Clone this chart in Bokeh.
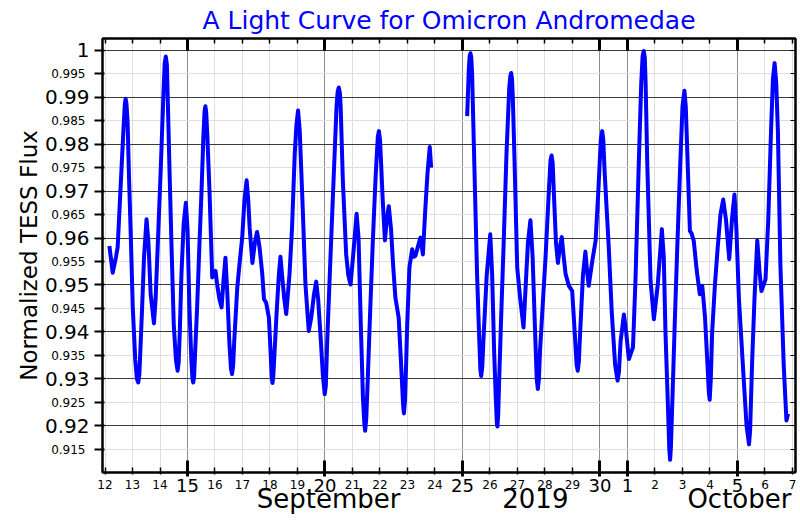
import pandas as pd
from bokeh.plotting import figure
from bokeh.models import Range1d, FixedTicker, DatetimeAxis, LinearAxis
from bokeh.embed import file_html
from bokeh.resources import INLINE

# Time is given as day of September 2019 (UTC); values above 30 fall in October (31 = Oct 1)
orbit1_day = [12.16, 12.28, 12.40, 12.46, 12.56, 12.68, 12.72, 12.75, 12.78, 12.82, 12.87, 12.94,
              13.01, 13.10, 13.16, 13.21, 13.25, 13.30, 13.35, 13.42, 13.51, 13.58, 13.66, 13.78,
              13.84, 13.90, 14.02, 14.12, 14.17, 14.21, 14.25, 14.28, 14.35, 14.42, 14.50, 14.58,
              14.64, 14.68, 14.72, 14.78, 14.86, 14.94, 15.00, 15.07, 15.14, 15.18, 15.21, 15.24,
              15.28, 15.35, 15.43, 15.51, 15.58, 15.62, 15.65, 15.68, 15.72, 15.80, 15.90, 15.97,
              16.02, 16.08, 16.16, 16.24, 16.31, 16.38, 16.45, 16.52, 16.58, 16.62, 16.66, 16.70,
              16.81, 16.90, 16.99, 17.07, 17.15, 17.21, 17.26, 17.36, 17.45, 17.53, 17.62, 17.72,
              17.78, 17.86, 17.96, 18.02, 18.06, 18.09, 18.12, 18.16, 18.24, 18.32, 18.38, 18.44,
              18.52, 18.59, 18.65, 18.71, 18.80, 18.90, 18.96, 19.02, 19.08, 19.19, 19.29, 19.41,
              19.50, 19.60, 19.68, 19.75, 19.85, 19.92, 19.99, 20.03, 20.08, 20.20, 20.32, 20.42,
              20.46, 20.50, 20.54, 20.57, 20.65, 20.77, 20.85, 20.93, 21.02, 21.15, 21.22, 21.30,
              21.38, 21.43, 21.46, 21.50, 21.55, 21.64, 21.74, 21.84, 21.92, 21.96, 22.00, 22.04,
              22.10, 22.18, 22.25, 22.32, 22.40, 22.48, 22.56, 22.68, 22.76, 22.84, 22.87, 22.91,
              22.95, 22.99, 23.07, 23.17, 23.23, 23.29, 23.37, 23.47, 23.56, 23.65, 23.73, 23.81,
              23.86]
orbit1_flux = [0.9583, 0.9526, 0.9560, 0.9580, 0.9700, 0.9842, 0.9885, 0.9897, 0.9886, 0.9850, 0.9736, 0.9600,
               0.9452, 0.9340, 0.9300, 0.9292, 0.9310, 0.9380, 0.9452, 0.9560, 0.9640, 0.9590, 0.9480, 0.9418,
               0.9470, 0.9558, 0.9736, 0.9900, 0.9972, 0.9987, 0.9970, 0.9900, 0.9736, 0.9580, 0.9416, 0.9340,
               0.9317, 0.9335, 0.9400, 0.9523, 0.9630, 0.9675, 0.9620, 0.9452, 0.9340, 0.9300, 0.9292, 0.9305,
               0.9360, 0.9452, 0.9580, 0.9700, 0.9820, 0.9870, 0.9881, 0.9868, 0.9820, 0.9700, 0.9516, 0.9525,
               0.9530, 0.9500, 0.9470, 0.9452, 0.9510, 0.9558, 0.9480, 0.9380, 0.9322, 0.9310, 0.9328, 0.9380,
               0.9494, 0.9550, 0.9601, 0.9680, 0.9723, 0.9680, 0.9622, 0.9547, 0.9590, 0.9613, 0.9580, 0.9523,
               0.9470, 0.9462, 0.9430, 0.9360, 0.9305, 0.9291, 0.9305, 0.9350, 0.9440, 0.9520, 0.9560, 0.9520,
               0.9470, 0.9438, 0.9480, 0.9523, 0.9620, 0.9780, 0.9840, 0.9872, 0.9830, 0.9664, 0.9500, 0.9402,
               0.9430, 0.9480, 0.9507, 0.9470, 0.9380, 0.9310, 0.9267, 0.9285, 0.9380, 0.9560, 0.9736, 0.9880,
               0.9912, 0.9921, 0.9910, 0.9880, 0.9721, 0.9565, 0.9520, 0.9501, 0.9560, 0.9652, 0.9600, 0.9420,
               0.9260, 0.9205, 0.9189, 0.9215, 0.9290, 0.9440, 0.9594, 0.9730, 0.9815, 0.9828, 0.9810, 0.9760,
               0.9680, 0.9595, 0.9640, 0.9668, 0.9620, 0.9540, 0.9473, 0.9430, 0.9340, 0.9245, 0.9226, 0.9255,
               0.9330, 0.9416, 0.9537, 0.9576, 0.9560, 0.9562, 0.9580, 0.9601, 0.9565, 0.9664, 0.9740, 0.9794,
               0.9750]

orbit2_day = [25.17, 25.23, 25.26, 25.29, 25.32, 25.35, 25.41, 25.53, 25.60, 25.65, 25.68, 25.72,
              25.76, 25.88, 26.01, 26.08, 26.15, 26.21, 26.25, 26.27, 26.30, 26.33, 26.40, 26.50,
              26.60, 26.70, 26.74, 26.77, 26.80, 26.83, 26.89, 26.99, 27.10, 27.22, 27.30, 27.38,
              27.47, 27.55, 27.64, 27.70, 27.74, 27.78, 27.82, 27.92, 28.02, 28.14, 28.20, 28.24,
              28.28, 28.32, 28.40, 28.47, 28.54, 28.61, 28.68, 28.75, 28.87, 28.99, 29.08, 29.15,
              29.19, 29.23, 29.28, 29.38, 29.47, 29.53, 29.59, 29.72, 29.84, 29.94, 30.03, 30.08,
              30.12, 30.17, 30.32, 30.43, 30.55, 30.64, 30.69, 30.75, 30.87, 30.95, 31.05, 31.20,
              31.29, 31.41, 31.50, 31.55, 31.59, 31.63, 31.66, 31.72, 31.84, 31.96, 32.10, 32.25,
              32.32, 32.38, 32.48, 32.52, 32.55, 32.58, 32.62, 32.72, 32.81, 32.92, 33.00, 33.07,
              33.12, 33.17, 33.27, 33.33, 33.41, 33.52, 33.63, 33.72, 33.82, 33.90, 33.96, 33.99,
              34.03, 34.08, 34.18, 34.28, 34.38, 34.48, 34.58, 34.70, 34.80, 34.89, 34.96, 35.05,
              35.23, 35.33, 35.42, 35.46, 35.53, 35.62, 35.72, 35.80, 35.87, 36.02, 36.12, 36.22,
              36.29, 36.35, 36.41, 36.47, 36.56, 36.68, 36.78, 36.84]
orbit2_flux = [0.9860, 0.9960, 0.9988, 0.9994, 0.9985, 0.9950, 0.9806, 0.9523, 0.9400, 0.9320, 0.9306, 0.9325,
               0.9380, 0.9520, 0.9608, 0.9520, 0.9360, 0.9260, 0.9205, 0.9198, 0.9225, 0.9290, 0.9420, 0.9594,
               0.9780, 0.9920, 0.9945, 0.9952, 0.9940, 0.9900, 0.9771, 0.9537, 0.9470, 0.9409, 0.9500, 0.9590,
               0.9638, 0.9560, 0.9400, 0.9300, 0.9278, 0.9300, 0.9360, 0.9460, 0.9558, 0.9700, 0.9765, 0.9776,
               0.9760, 0.9700, 0.9590, 0.9547, 0.9580, 0.9602, 0.9560, 0.9523, 0.9498, 0.9487, 0.9400, 0.9330,
               0.9317, 0.9335, 0.9400, 0.9520, 0.9571, 0.9530, 0.9498, 0.9551, 0.9594, 0.9700, 0.9810, 0.9828,
               0.9810, 0.9740, 0.9579, 0.9440, 0.9330, 0.9296, 0.9315, 0.9380, 0.9437, 0.9400, 0.9342, 0.9367,
               0.9509, 0.9757, 0.9930, 0.9988, 0.9999, 0.9985, 0.9930, 0.9757, 0.9509, 0.9427, 0.9500, 0.9619,
               0.9560, 0.9402, 0.9225, 0.9150, 0.9127, 0.9155, 0.9230, 0.9420, 0.9579, 0.9760, 0.9880, 0.9914,
               0.9880, 0.9792, 0.9615, 0.9610, 0.9594, 0.9530, 0.9480, 0.9498, 0.9430, 0.9340, 0.9270, 0.9255,
               0.9300, 0.9400, 0.9500, 0.9579, 0.9650, 0.9682, 0.9640, 0.9555, 0.9640, 0.9693, 0.9620, 0.9473,
               0.9296, 0.9200, 0.9160, 0.9190, 0.9331, 0.9473, 0.9595, 0.9530, 0.9487, 0.9512, 0.9640, 0.9828,
               0.9940, 0.9973, 0.9930, 0.9828, 0.9544, 0.9331, 0.9211, 0.9225]

tick_days = list(range(12, 38))
tick_labels = ["12", "13", "14", "15", "16", "17", "18", "19", "20", "21", "22", "23", "24",
               "25", "26", "27", "28", "29", "30", "1", "2", "3", "4", "5", "6", "7"]
major_days = [15, 20, 25, 30, 31, 35]
month_days = [20.13, 27.65, 35.07]
month_labels = ["September", "2019", "October"]

y_major = [0.92, 0.93, 0.94, 0.95, 0.96, 0.97, 0.98, 0.99, 1.0]
y_major_labels = ["0.92", "0.93", "0.94", "0.95", "0.96", "0.97", "0.98", "0.99", "1"]
y_minor = [0.915, 0.925, 0.935, 0.945, 0.955, 0.965, 0.975, 0.985, 0.995]
y_minor_labels = ["0.915", "0.925", "0.935", "0.945", "0.955", "0.965", "0.975", "0.985", "0.995"]

BASE = pd.Timestamp("2019-08-31")
FONT = "DejaVu Sans"


def to_dt(d):
    return BASE + pd.Timedelta(days=d)


def to_ms(d):
    return int(round(to_dt(d).timestamp() * 1000))


def plain(ax):
    ax.axis_line_color = None
    ax.major_tick_line_color = None
    ax.minor_tick_line_color = None
    ax.major_tick_out = 0
    ax.major_tick_in = 0
    ax.minor_tick_out = 0
    ax.minor_tick_in = 0
    ax.major_label_text_font = FONT
    ax.major_label_text_color = "black"


p = figure(width=800, height=520, x_axis_type="datetime",
           x_range=Range1d(to_dt(11.909), to_dt(37.11)),
           y_range=Range1d(0.9100, 1.00255),
           output_backend="svg", toolbar_location=None,
           min_border_left=102, min_border_right=5, min_border_top=37, min_border_bottom=48)

p.title.text = "A Light Curve for Omicron Andromedae"
p.title.text_font = FONT
p.title.text_font_size = "25px"
p.title.text_font_style = "normal"
p.title.text_color = "#0000ff"
p.title.align = "center"
p.title.standoff = 7

p.outline_line_color = "black"
p.outline_line_width = 2

all_ms = [to_ms(d) for d in tick_days]
major_ms = [to_ms(d) for d in major_days]
minor_only_ms = [m for m in all_ms if m not in major_ms]
label_map = {to_ms(d): t for d, t in zip(tick_days, tick_labels)}

# inner x axis: all tick marks (long ones at 15, 20, ...) + small day labels
xa = p.xaxis[0]
xa.ticker = FixedTicker(ticks=minor_only_ms, minor_ticks=major_ms)
xa.major_label_overrides = {m: label_map[m] for m in minor_only_ms}
xa.major_label_text_font = FONT
xa.major_label_text_font_size = "12px"
xa.major_label_text_color = "black"
xa.major_label_standoff = 3
xa.major_tick_in = 5
xa.major_tick_out = 2
xa.major_tick_line_width = 1.5
xa.minor_tick_in = 12
xa.minor_tick_out = 4
xa.minor_tick_line_width = 3
xa.minor_tick_line_color = "black"
xa.axis_line_width = 2

# big day labels
xb = DatetimeAxis(ticker=FixedTicker(ticks=major_ms, minor_ticks=[]))
plain(xb)
xb.major_label_overrides = {m: label_map[m] for m in major_ms}
xb.major_label_text_font_size = "18px"
xb.major_label_standoff = -13
p.add_layout(xb, "below")

# month / year names
month_ms = [to_ms(d) for d in month_days]
xm = DatetimeAxis(ticker=FixedTicker(ticks=month_ms, minor_ticks=[]))
plain(xm)
xm.major_label_overrides = dict(zip(month_ms, month_labels))
xm.major_label_text_font_size = "26px"
xm.major_label_standoff = -11
p.add_layout(xm, "below")

# top tick marks
xt = DatetimeAxis(ticker=FixedTicker(ticks=major_ms, minor_ticks=all_ms))
xt.major_label_text_color = None
xt.major_label_standoff = 0
xt.major_tick_in = 12
xt.major_tick_out = 0
xt.major_tick_line_width = 3
xt.minor_tick_in = 5
xt.minor_tick_out = 0
xt.minor_tick_line_width = 1.5
xt.minor_tick_line_color = "black"
xt.axis_line_width = 2
p.add_layout(xt, "above")

# y axis with big labels and tick marks
ya = p.yaxis[0]
ya.ticker = FixedTicker(ticks=y_major, minor_ticks=y_minor)
ya.major_label_overrides = dict(zip(y_major, y_major_labels))
ya.major_label_text_font = FONT
ya.major_label_text_font_size = "20px"
ya.major_label_text_color = "black"
ya.major_label_standoff = 5
ya.major_tick_in = 2
ya.major_tick_out = 8
ya.minor_tick_in = 2
ya.minor_tick_out = 8
ya.major_tick_line_width = 2
ya.minor_tick_line_width = 2
ya.minor_tick_line_color = "black"
ya.axis_line_width = 2

# y axis with small labels and the axis title
ys = LinearAxis(ticker=FixedTicker(ticks=y_minor, minor_ticks=[]))
plain(ys)
ys.major_label_overrides = dict(zip(y_minor, y_minor_labels))
ys.major_label_text_font_size = "12px"
ys.major_label_standoff = -44
ys.axis_label = "Normalized TESS Flux"
ys.axis_label_text_font = FONT
ys.axis_label_text_font_size = "23px"
ys.axis_label_text_font_style = "normal"
ys.axis_label_text_color = "black"
ys.axis_label_standoff = 6
p.add_layout(ys, "left")

# right tick marks
yr = LinearAxis(ticker=FixedTicker(ticks=y_major, minor_ticks=y_minor))
yr.major_label_text_color = None
yr.major_label_standoff = 0
yr.major_tick_in = 5
yr.major_tick_out = 0
yr.minor_tick_in = 5
yr.minor_tick_out = 0
yr.minor_tick_line_color = "black"
yr.axis_line_width = 2
p.add_layout(yr, "right")

# grids (x grid: light at ordinary days, darker at 15, 20, 25, 30, 1, 5)
p.xgrid.grid_line_color = "#dedede"
p.xgrid.grid_line_width = 1
p.xgrid.minor_grid_line_color = "#8c8c8c"
p.xgrid.minor_grid_line_width = 1
p.ygrid.grid_line_color = "#3a3a3a"
p.ygrid.grid_line_width = 1
p.ygrid.minor_grid_line_color = "#dedede"
p.ygrid.minor_grid_line_width = 1

p.line([to_dt(d) for d in orbit1_day], orbit1_flux, line_color="#0000ff", line_width=4, line_join="round")
p.line([to_dt(d) for d in orbit2_day], orbit2_flux, line_color="#0000ff", line_width=4, line_join="round")

open("out.html", "w").write(file_html(p, INLINE))
